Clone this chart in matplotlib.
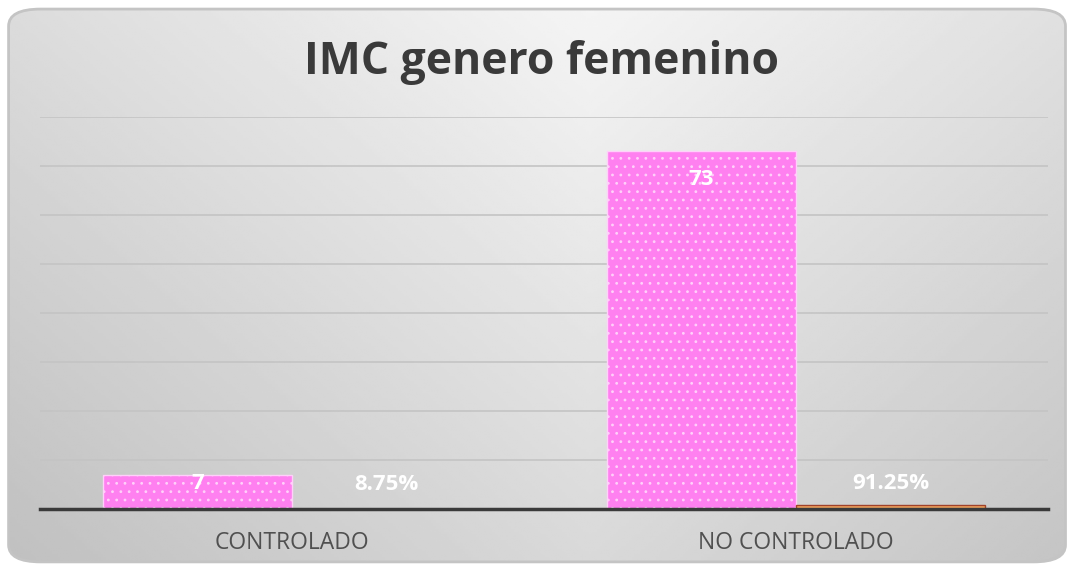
import numpy as np
import matplotlib.pyplot as plt
from matplotlib.patches import FancyBboxPatch

categorias = ['CONTROLADO', 'NO CONTROLADO']
cantidad = [7, 73]
porcentaje = [0.0875, 0.9125]
etiquetas_pct = ['8.75%', '91.25%']

plt.rcParams['font.family'] = ['Open Sans', 'DejaVu Sans']
plt.rcParams['hatch.color'] = 'white'
plt.rcParams['hatch.linewidth'] = 0.8

fig = plt.figure(figsize=(10.73, 5.67), dpi=100)
fig.patch.set_facecolor('white')

# fondo degradado gris con borde redondeado
bg = fig.add_axes([0, 0, 1, 1], zorder=0)
bg.set_xlim(0, 1)
bg.set_ylim(0, 1)
bg.axis('off')
xx, yy = np.meshgrid(np.linspace(0, 1, 400), np.linspace(0, 1, 200))
grad = 0.96 - 0.09 * np.abs(xx - 0.55) * 2 - 0.11 * (1 - yy)
img = bg.imshow(grad, extent=[0, 1, 0, 1], cmap='gray', vmin=0, vmax=1,
                origin='lower', aspect='auto')
caja = FancyBboxPatch((0.008, 0.009), 0.985, 0.975,
                      boxstyle='round,pad=0,rounding_size=0.03',
                      transform=bg.transAxes, facecolor='none',
                      edgecolor='#c4c4c4', lw=2)
bg.add_patch(caja)
img.set_clip_path(caja)

ax = fig.add_axes([0.0373, 0.1023, 0.9394, 0.6914], zorder=1)
ax.patch.set_alpha(0)
x = np.arange(len(categorias))
w = 0.375
b1 = ax.bar(x - w / 2, cantidad, w, color='#ff80f0', edgecolor='#ffd0fa',
            hatch='..', lw=1, zorder=3)
b2 = ax.bar(x + w / 2, porcentaje, w, color='#f2a35e', edgecolor='#a0422a',
            lw=1, zorder=3)

ax.set_xlim(-0.5, 1.5)
ax.set_ylim(0, 80)
ax.set_yticks(np.arange(0, 81, 10))
ax.yaxis.grid(True, color='#c4c4c4', lw=1.2)
ax.set_axisbelow(True)
for s in ['top', 'right', 'left']:
    ax.spines[s].set_visible(False)
ax.spines['bottom'].set_color('#3a3a3a')
ax.spines['bottom'].set_linewidth(2.5)
ax.spines['bottom'].set_zorder(4)
ax.tick_params(left=False, labelleft=False, bottom=False)
ax.set_xticks(x)
ax.set_xticklabels(categorias, fontsize=16.5, color='#505050')
ax.tick_params(axis='x', pad=12)

# etiquetas de datos
desfase = [-6, -20]
for i, v in enumerate(cantidad):
    ax.annotate(str(v), (x[i] - w / 2, v), xytext=(0, desfase[i]),
                textcoords='offset points', ha='center', va='center',
                color='white', fontsize=16, fontweight='bold', zorder=5)
desfase_pct = [17, 15]
for i, v in enumerate(porcentaje):
    ax.annotate(etiquetas_pct[i], (x[i] + w / 2, v), xytext=(0, desfase_pct[i]),
                textcoords='offset points', ha='center', va='center',
                color='white', fontsize=16, fontweight='bold', zorder=5)

fig.text(0.505, 0.89, 'IMC genero femenino', ha='center', va='center',
         fontsize=32, fontweight='bold', color='#3a3a3a')

fig.savefig('out.png', dpi=100)
